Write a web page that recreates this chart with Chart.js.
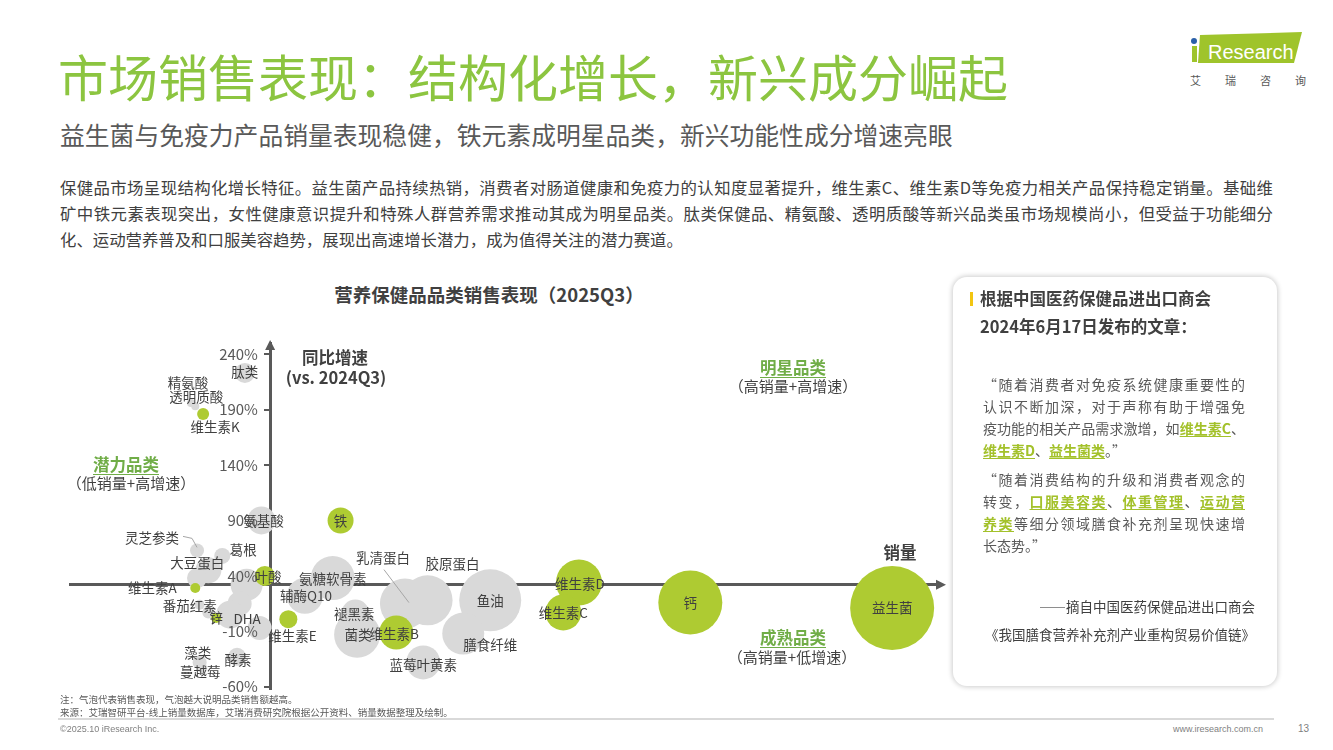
<!DOCTYPE html>
<html lang="zh-CN">
<head>
<meta charset="UTF-8">
<title>市场销售表现：结构化增长，新兴成分崛起</title>
<script src="https://cdn.jsdelivr.net/npm/chart.js@4"></script>
<style>
  body {
    margin: 0;
    width: 1333px;
    height: 750px;
    position: relative;
    overflow: hidden;
    background: #fff;
    font-family: "Noto Sans CJK SC", "Noto Sans", sans-serif;
    color: #404040;
  }
  .abs { position: absolute; white-space: nowrap; }
  .title { left: 58px; top: 50px; font-size: 50px; line-height: 50px; color: #8cc540; }
  .subtitle { left: 60px; top: 122px; font-size: 24.8px; line-height: 25px; color: #595959; }
  .para { left: 60px; width: 1213px; font-size: 16.4px; line-height: 26px; color: #404040; }
  .just { text-align: justify; text-align-last: justify; }
  .ctitle { left: 289px; top: 282px; width: 400px; text-align: center; font-size: 18.5px; line-height: 24px; font-weight: bold; }
  .axisname { font-size: 16.5px; line-height: 22px; font-weight: bold; text-align: center; width: 200px; }
  .quad { font-size: 16.5px; line-height: 22px; font-weight: bold; color: #70ad47; text-decoration: underline; text-underline-offset: 3px; text-align: center; width: 200px; }
  .quadsub { font-size: 15px; line-height: 22px; color: #404040; text-align: center; width: 200px; }
  #chartBox { position: absolute; left: 60px; top: 333px; width: 890px; height: 366px; }
  .panel { position: absolute; left: 953px; top: 277px; width: 324px; height: 409px; border-radius: 14px; background: #fff; box-shadow: 0 0 5px 1px rgba(0,0,0,0.2); }
  .ybar { position: absolute; left: 970px; top: 292px; width: 3px; height: 14px; background: #f2c511; }
  .ph { left: 980px; font-size: 16.5px; line-height: 28px; font-weight: bold; color: #404040; }
  .ql { left: 983px; width: 262px; font-size: 14px; line-height: 22px; color: #595959; }
  .hl { color: #a3c12a; font-weight: bold; text-decoration: underline; text-underline-offset: 2px; }
  .src { right: 78px; font-size: 13.5px; line-height: 20px; color: #404040; text-align: right; }
  .note { left: 60px; font-size: 9.5px; line-height: 13px; color: #595959; }
  .foot { font-family: "Liberation Sans", Arial, sans-serif; font-size: 9px; line-height: 12px; color: #7f7f7f; }
</style>
</head>
<body>

<div class="abs title">市场销售表现：结构化增长，新兴成分崛起</div>
<div class="abs subtitle">益生菌与免疫力产品销量表现稳健，铁元素成明星品类，新兴功能性成分增速亮眼</div>

<div class="abs para just" style="top:174px">保健品市场呈现结构化增长特征。益生菌产品持续热销，消费者对肠道健康和免疫力的认知度显著提升，维生素C、维生素D等免疫力相关产品保持稳定销量。基础维</div>
<div class="abs para just" style="top:200px">矿中铁元素表现突出，女性健康意识提升和特殊人群营养需求推动其成为明星品类。肽类保健品、精氨酸、透明质酸等新兴品类虽市场规模尚小，但受益于功能细分</div>
<div class="abs para" style="top:226px">化、运动营养普及和口服美容趋势，展现出高速增长潜力，成为值得关注的潜力赛道。</div>

<!-- logo -->
<div class="abs" style="left:1198px;top:32px;width:104px;height:31px;background:#9fc42b;clip-path:polygon(2px 3px,104px 0,96px 31px,0 31px)"></div>
<div class="abs" style="left:1192px;top:46px;width:5px;height:16px;background:#9fc42b"></div>
<div class="abs" style="left:1191px;top:38px;width:6px;height:6px;border-radius:50%;background:#2a5fa8"></div>
<div class="abs" style="left:1208px;top:42px;font-family:'Liberation Sans',Arial,sans-serif;font-size:20px;line-height:20px;color:#fff">Research</div>
<div class="abs" style="left:1190px;top:73px;font-size:11px;line-height:14px;letter-spacing:24px;color:#595959">艾瑞咨询</div>

<!-- chart -->
<div class="abs ctitle">营养保健品品类销售表现（2025Q3）</div>
<div id="chartBox"><canvas id="bubbleChart"></canvas></div>
<div class="abs axisname" style="left:235px;top:346px">同比增速</div>
<div class="abs axisname" style="left:236px;top:366px">(vs. 2024Q3)</div>
<div class="abs axisname" style="left:800px;top:541px;width:200px">销量</div>

<div class="abs quad" style="left:26px;top:453px">潜力品类</div>
<div class="abs quadsub" style="left:31px;top:472px">（低销量+高增速）</div>
<div class="abs quad" style="left:693px;top:356px">明星品类</div>
<div class="abs quadsub" style="left:693px;top:375px">（高销量+高增速）</div>
<div class="abs quad" style="left:693px;top:626px">成熟品类</div>
<div class="abs quadsub" style="left:692px;top:646px">（高销量+低增速）</div>

<!-- side panel -->
<div class="panel"></div>
<div class="ybar"></div>
<div class="abs ph" style="top:284px">根据中国医药保健品进出口商会</div>
<div class="abs ph" style="top:312px">2024年6月17日发布的文章：</div>

<div class="abs ql just" style="top:373px">“随着消费者对免疫系统健康重要性的</div>
<div class="abs ql just" style="top:395px">认识不断加深，对于声称有助于增强免</div>
<div class="abs ql just" style="top:417px">疫功能的相关产品需求激增，如<span class="hl">维生素C</span>、</div>
<div class="abs ql" style="top:439px"><span class="hl">维生素D</span>、<span class="hl">益生菌类</span>。”</div>

<div class="abs ql just" style="top:468px">“随着消费结构的升级和消费者观念的</div>
<div class="abs ql just" style="top:490px">转变，<span class="hl">口服美容类</span>、<span class="hl">体重管理</span>、<span class="hl">运动营</span></div>
<div class="abs ql just" style="top:512px"><span class="hl">养类</span>等细分领域膳食补充剂呈现快速增</div>
<div class="abs ql" style="top:534px">长态势。”</div>

<div class="abs src" style="top:596px">——摘自中国医药保健品进出口商会</div>
<div class="abs src" style="top:624px">《我国膳食营养补充剂产业重构贸易价值链》</div>

<!-- footer -->
<div class="abs note" style="top:693px">注：气泡代表销售表现，气泡越大说明品类销售额越高。</div>
<div class="abs note" style="top:706px">来源：艾瑞智研平台-线上销量数据库，艾瑞消费研究院根据公开资料、销量数据整理及绘制。</div>
<div class="abs" style="left:58px;top:718px;width:1216px;height:2px;background:#d9d9d9"></div>
<div class="abs foot" style="left:60px;top:723px">©2025.10 iResearch Inc.</div>
<div class="abs foot" style="left:1173px;top:723px">www.iresearch.com.cn</div>
<div class="abs foot" style="left:1298px;top:723px;font-size:10px">13</div>

<script>
// category data (x = sales index, y = YoY growth %, size = bubble radius by sales)
const categories = ["肽类", "精氨酸", "透明质酸", "维生素K", "氨基酸", "铁", "灵芝参类", "葛根", "大豆蛋白", "",
    "维生素A", "番茄红素", "", "", "", "DHA", "", "锌", "叶酸", "藻类",
    "蔓越莓", "酵素", "氨糖软骨素", "辅酶Q10", "维生素E", "褪黑素", "菌类", "维生素B", "乳清蛋白", "胶原蛋白",
    "鱼油", "膳食纤维", "蓝莓叶黄素", "维生素D", "维生素C", "钙", "益生菌"];
const salesIndex = [20.1, 13.9, 14.4, 15.3, 22.0, 31.1, 14.6, 17.5, 15.9, 14.6,
    14.4, 14.9, 15.9, 20.3, 19.5, 18.4, 21.8, 16.8, 22.4, 14.9,
    15.2, 19.2, 30.2, 27.0, 25.1, 32.8, 33.0, 37.5, 38.5, 41.1,
    48.3, 45.2, 40.6, 58.5, 56.7, 71.3, 94.5];
const yoyGrowth = [223, 196, 193, 186, 90, 90, 63, 58, 45, 38,
    29, 14, 7, 32, 15, 5, -7, 2, 40, -38,
    -43, -33, 38, 22, 1, 6, -13, -11, 15, 18,
    18, -12, -38, 34, 7, 16, 11];
const bubbleSize = [10, 4, 4, 6, 14, 13, 7, 8, 13, 10,
    5, 5, 6, 16, 12, 14, 12, 5, 10, 7,
    5, 9, 22, 18, 9, 14, 23, 17, 25, 25,
    31, 21, 17, 23, 18, 32, 42];
const highlighted = [0, 0, 0, 1, 0, 1, 0, 0, 0, 0,
    1, 0, 0, 0, 0, 0, 0, 1, 1, 0,
    0, 0, 0, 0, 1, 0, 0, 1, 0, 0,
    0, 0, 0, 1, 1, 1, 1];
const yTicks = [240, 190, 140, 90, 40, -10, -60];
const salesDivider = 23;   // where the growth axis crosses
const growthDivider = 32;  // where the sales axis crosses
const tickLabelX = 21.6;   // tick labels sit just left of the growth axis

// label placement relative to bubble centre (px)
const labelOffset = {
    "肽类": [0, -1], "精氨酸": [-3, -20], "透明质酸": [1, -9], "维生素K": [12, 13],
    "氨基酸": [2, 0], "灵芝参类": [-45, -13], "葛根": [21, -6], "大豆蛋白": [-11, -7],
    "维生素A": [-43, 0], "番茄红素": [-10, 1], "DHA": [17, 4], "叶酸": [3, 1],
    "藻类": [-2, -10], "蔓越莓": [-2, 4], "酵素": [1, 3], "氨糖软骨素": [0, 1],
    "辅酶Q10": [1, 0], "维生素E": [4, 17], "褪黑素": [-1, 0], "菌类": [1, 0],
    "维生素B": [-2, 1], "乳清蛋白": [-22, -46], "胶原蛋白": [25, -36], "鱼油": [0, 1],
    "膳食纤维": [27, 11], "蓝莓叶黄素": [0, 2], "维生素D": [1, 1]
};
const leaderLines = {
    "灵芝参类": [[-14, -14], [-5, -12], [0, -3]],
    "乳清蛋白": [[-21, -34], [4, -1]]
};

const FONT = '"Noto Sans CJK SC", "Noto Sans", sans-serif';
Chart.defaults.font.family = FONT;

function bubbles(flag) {
    const out = [];
    categories.forEach((name, i) => {
        if (highlighted[i] === flag) {
            out.push({x: salesIndex[i], y: yoyGrowth[i], r: bubbleSize[i], name: name});
        }
    });
    return out;
}

function noPadding(scale) {
    scale.paddingTop = 0;
    scale.paddingBottom = 0;
    scale.paddingLeft = 0;
    scale.paddingRight = 0;
}

function fixedTicks(scale) {
    scale.ticks = yTicks.map(v => ({value: v}));
}

const labelPlugin = {
    id: "bubbleLabels",
    afterDraw(chart) {
        const ctx = chart.ctx;
        ctx.save();
        ctx.font = "13.5px " + FONT;
        ctx.fillStyle = "#404040";
        ctx.textAlign = "center";
        ctx.textBaseline = "middle";
        chart.data.datasets.forEach((ds, di) => {
            chart.getDatasetMeta(di).data.forEach((el, i) => {
                const name = ds.data[i].name;
                if (!name) return;
                const off = labelOffset[name] || [0, 0];
                const lead = leaderLines[name];
                if (lead) {
                    ctx.strokeStyle = "#a6a6a6";
                    ctx.lineWidth = 1;
                    ctx.beginPath();
                    lead.forEach((p, k) => {
                        if (k === 0) ctx.moveTo(el.x + p[0], el.y + p[1]);
                        else ctx.lineTo(el.x + p[0], el.y + p[1]);
                    });
                    ctx.stroke();
                }
                ctx.fillText(name, el.x + off[0], el.y + off[1]);
            });
        });
        ctx.restore();
    }
};

const arrowPlugin = {
    id: "axisArrows",
    afterDraw(chart) {
        const ctx = chart.ctx;
        const area = chart.chartArea;
        const ax = chart.scales.x.getPixelForValue(salesDivider);
        const ay = chart.scales.y.getPixelForValue(growthDivider);
        ctx.save();
        ctx.fillStyle = "#595959";
        ctx.beginPath();
        ctx.moveTo(ax, area.top - 3);
        ctx.lineTo(ax - 5, area.top + 7);
        ctx.lineTo(ax + 5, area.top + 7);
        ctx.closePath();
        ctx.fill();
        ctx.beginPath();
        ctx.moveTo(area.right + 6, ay);
        ctx.lineTo(area.right - 4, ay - 5);
        ctx.lineTo(area.right - 4, ay + 5);
        ctx.closePath();
        ctx.fill();
        ctx.restore();
    }
};

new Chart(document.getElementById("bubbleChart"), {
    type: "bubble",
    data: {
        datasets: [{
            label: "重点品类",
            data: bubbles(1),
            backgroundColor: "#aecb32",
            borderWidth: 0,
            clip: false,
            order: 1
        }, {
            label: "其他品类",
            data: bubbles(0),
            backgroundColor: "#d9d9d9",
            borderWidth: 0,
            clip: false,
            order: 2
        }]
    },
    options: {
        responsive: true,
        maintainAspectRatio: false,
        animation: false,
        events: [],
        layout: {autoPadding: false, padding: {left: 10, right: 10, top: 10, bottom: 10}},
        plugins: {legend: {display: false}, tooltip: {enabled: false}},
        scales: {
            x: {
                type: "linear",
                min: 0,
                max: 100,
                position: {y: growthDivider},
                grid: {display: false},
                ticks: {display: false},
                border: {display: true, color: "#595959", width: 3},
                afterFit: noPadding
            },
            y: {
                type: "linear",
                min: -62,
                max: 250,
                position: {x: salesDivider},
                afterBuildTicks: fixedTicks,
                grid: {display: true, drawOnChartArea: false, drawTicks: true, tickLength: 5, color: "#595959", lineWidth: 2},
                ticks: {display: false},
                border: {display: true, color: "#595959", width: 3},
                afterFit: noPadding
            },
            yLabels: {
                axis: "y",
                type: "linear",
                min: -62,
                max: 250,
                position: {x: tickLabelX},
                afterBuildTicks: fixedTicks,
                grid: {display: false, drawTicks: false},
                border: {display: false},
                ticks: {z: 1, padding: 0, color: "#595959", font: {size: 15}, callback: v => v + "%"},
                afterFit: noPadding
            }
        }
    },
    plugins: [labelPlugin, arrowPlugin]
});
</script>
</body>
</html>
